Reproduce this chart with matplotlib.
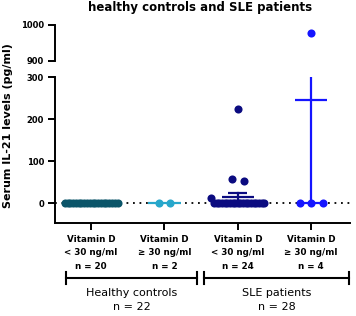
import numpy as np
import matplotlib
matplotlib.use("Agg")
import matplotlib.pyplot as plt
from matplotlib.lines import Line2D
from matplotlib.transforms import blended_transform_factory

# ---------------- data ----------------
title = "healthy controls and SLE patients"
ylabel = "Serum IL-21 levels (pg/ml)"
tick_labels = [
    "Vitamin D\n< 30 ng/ml\nn = 20",
    "Vitamin D\n\u2265 30 ng/ml\nn = 2",
    "Vitamin D\n< 30 ng/ml\nn = 24",
    "Vitamin D\n\u2265 30 ng/ml\nn = 4",
]
group_names = ["Healthy controls\nn = 22", "SLE patients\nn = 28"]

hc_low = [0] * 20
hc_high = [0, 0]
sle_low = [223, 58, 53, 12] + [0] * 20
sle_high = [978, 0, 0, 0]
series = [hc_low, hc_high, sle_low, sle_high]
colors = ["#0b5569", "#27a7cb", "#0b0b80", "#1515ff"]

lower_ticks = [0, 100, 200, 300]
upper_ticks = [900, 1000]

# ---------------- helpers ----------------
def swarm(vals, px_per_unit, step=0.157, maxhalf=0.36, tol_px=8):
    vals = np.asarray(vals, float)
    order = np.argsort(-vals, kind="stable")
    clusters = []
    for i in order:
        if clusters and abs(vals[clusters[-1][-1]] - vals[i]) * px_per_unit < tol_px:
            clusters[-1].append(i)
        else:
            clusters.append([i])
    offs = np.zeros(len(vals))
    for c in clusters:
        k = len(c)
        half = min((k - 1) * step / 2, maxhalf)
        pos = np.linspace(-half, half, k) if k > 1 else [0.0]
        for j, idx in enumerate(c):
            offs[idx] = pos[j]
    return offs

# ---------------- figure ----------------
W, H = 356, 316
fig = plt.figure(figsize=(W / 100, H / 100), dpi=100)

def fx(px):
    return px / W

def fy(py):
    return (H - py) / H

left, right = 54.5, 350
ax_bot = fig.add_axes([fx(left), fy(223), fx(right - left), fy(77) - fy(223)])
ax_top = fig.add_axes([fx(left), fy(61), fx(right - left), fy(25) - fy(61)])

xlim = (-0.5, 3.53)
px_per_unit = 0.42

for ax in (ax_top, ax_bot):
    ax.set_xlim(*xlim)
    ax.axhline(0, ls=(0, (1, 2.6)), color="black", lw=1.3, zorder=1)
    for i, vals in enumerate(series):
        v = np.asarray(vals, float)
        m = v.mean()
        se = v.std(ddof=1) / np.sqrt(len(v))
        c = colors[i]
        ax.plot([i - 0.22, i + 0.22], [m, m], color=c, lw=1.6, zorder=2,
                solid_capstyle="butt")
        if se > 0:
            ax.plot([i, i], [m - se, m + se], color=c, lw=1.6, zorder=2)
            for yv in (m - se, m + se):
                ax.plot([i - 0.13, i + 0.13], [yv, yv], color=c, lw=1.6, zorder=2,
                        solid_capstyle="butt")
        offs = swarm(v, px_per_unit)
        ax.scatter(i + offs, v, s=34, color=c, linewidths=0, zorder=3)

# lower axes
ax_bot.set_ylim(-47.6, 300)
ax_bot.set_yticks(lower_ticks)
ax_bot.set_yticklabels([str(t) for t in lower_ticks], fontsize=6, fontweight="bold")
ax_bot.set_xticks(range(4))
ax_bot.set_xticklabels(tick_labels, fontsize=6.3, fontweight="bold", linespacing=1.65)
for s in ("top", "right"):
    ax_bot.spines[s].set_visible(False)
for s in ("left", "bottom"):
    ax_bot.spines[s].set_linewidth(1.4)
ax_bot.tick_params(axis="both", length=5, width=1.4, pad=2.5)
ax_bot.tick_params(axis="x", pad=3.3)
ax_bot.patch.set_alpha(0)

# upper axes
ax_top.set_ylim(900, 1000)
ax_top.set_yticks(upper_ticks)
ax_top.set_yticklabels([str(t) for t in upper_ticks], fontsize=6, fontweight="bold")
ax_top.set_xticks([])
for s in ("top", "right", "bottom"):
    ax_top.spines[s].set_visible(False)
ax_top.spines["left"].set_linewidth(1.4)
ax_top.tick_params(axis="y", length=5, width=1.4, pad=2.5)
ax_top.patch.set_alpha(0)

# y label
fig.text(fx(8), fy(126), ylabel, rotation=90, ha="center", va="center",
         fontsize=8, fontweight="bold")

# title
fig.text(fx(200), fy(1), title, ha="center", va="top",
         fontsize=8.5, fontweight="bold")

# group brackets
tr = blended_transform_factory(ax_bot.transData, fig.transFigure)
brackets = [(-0.343, 1.444), (1.54, 3.518)]
yb = fy(277.7)
dt = 6 / H
for (x0, x1), name in zip(brackets, group_names):
    fig.add_artist(Line2D([x0, x1], [yb, yb], transform=tr, color="black", lw=1.5))
    for xx in (x0, x1):
        fig.add_artist(Line2D([xx, xx], [yb - dt, yb + dt], transform=tr,
                              color="black", lw=1.5))
    fig.text((x0 + x1) / 2, fy(300), name, transform=tr, ha="center", va="center",
             fontsize=8, linespacing=1.6)

fig.savefig("out.png", dpi=100)
